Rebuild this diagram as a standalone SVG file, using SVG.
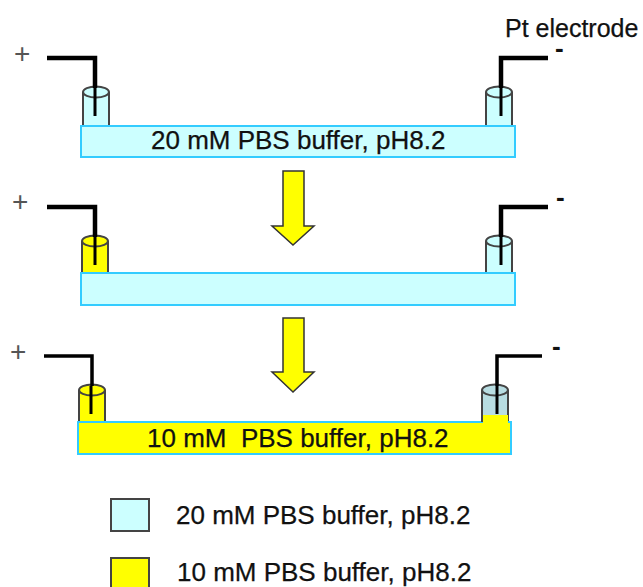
<svg xmlns="http://www.w3.org/2000/svg" width="643" height="587" viewBox="0 0 643 587">
<defs>
<style>
text{font-family:"Liberation Sans",Arial,sans-serif;fill:#111}
.lbl{font-size:26px;stroke:#111;stroke-width:.25}
.sign{font-size:28px;fill:#555}
.minus{font-size:26px;font-weight:bold;fill:#111}
.bar{stroke:#33ccff;stroke-width:2}
.blue{fill:#ccffff}
.grey{fill:#b8dde2}
.yel{fill:#ffff00}
.tube{stroke:#444;stroke-width:2}
.tb{fill:none;stroke:#444;stroke-width:2}
.wire{fill:none;stroke:#000;stroke-width:4.500}
.wire2{fill:none;stroke:#000;stroke-width:3}
.wire3{fill:none;stroke:#000;stroke-width:3.500}
.arrow{fill:#ffff00;stroke:#333;stroke-width:1.500;stroke-linejoin:miter}
.key{stroke:#444;stroke-width:2}
</style>
<g id="tubeBlue"><path class="blue" d="M0 0V33H26V0Z"/><path class="tb" d="M0 0V33M26 0V33"/><ellipse class="blue tube" cx="13" cy="0" rx="13" ry="5.500"/></g>
<g id="tubeYellow"><path class="yel" d="M0 0V33H26V0Z"/><path class="tb" d="M0 0V33M26 0V33"/><ellipse class="yel tube" cx="13" cy="0" rx="13" ry="5.500"/></g>
<g id="tubeGrey"><path class="grey" d="M0 0V33H26V0Z"/><path class="tb" d="M0 0V33M26 0V33"/><ellipse class="grey tube" cx="13" cy="0" rx="13" ry="5.500"/></g>
</defs>

<g id="row1">
<use href="#tubeBlue" x="83" y="92"/>
<use href="#tubeBlue" x="486" y="92"/>
<rect class="bar blue" x="81" y="126" width="434" height="31"/>
<text class="lbl" x="151" y="149">20 mM PBS buffer, pH8.2</text>
</g>
<g id="row2">
<use href="#tubeYellow" x="82" y="241"/>
<use href="#tubeBlue" x="486" y="241"/>
<rect class="bar blue" x="81" y="273" width="434" height="32"/>
</g>
<g id="row3">
<use href="#tubeYellow" x="79" y="390"/>
<use href="#tubeGrey" x="482" y="390"/>
<rect class="bar yel" x="78" y="422" width="433" height="32"/>
<rect class="yel" x="483" y="415" width="25" height="10"/>
<path class="tb" d="M482 415V422"/>
<text class="lbl" x="147" y="447" xml:space="preserve">10 mM  PBS buffer, pH8.2</text>
</g>

<g id="connectors">
<path class="wire" d="M47 58H95V88"/><path class="wire2" d="M95 88V116"/>
<path class="wire" d="M548 58H501V88"/><path class="wire2" d="M501 88V116"/>
<path class="wire" d="M47 207H95V237"/><path class="wire2" d="M95 237V265"/>
<path class="wire" d="M548 207H501V237"/><path class="wire2" d="M501 237V265"/>
<path class="wire3" d="M44 356H92V386"/><path class="wire2" d="M91 386V414"/>
<path class="wire3" d="M542 356H497V386"/><path class="wire2" d="M497 386V414"/>
<path class="arrow" d="M283 171H304V226H314L293 245L272 226H283Z"/>
<path class="arrow" d="M283 318H304V372H314L293 392L272 372H283Z"/>
</g>

<g id="signs">
<text class="sign" x="14" y="63">+</text>
<text class="sign" x="12" y="211">+</text>
<text class="sign" x="10" y="361">+</text>
<text class="minus" x="555" y="57">-</text>
<text class="minus" x="556" y="206">-</text>
<text class="minus" x="552" y="355">-</text>
</g>

<g id="pt-label"><text class="lbl" x="505" y="37" style="font-size:25px">Pt electrode</text></g>

<g id="legend-20">
<rect class="key blue" x="111" y="499" width="38" height="32"/>
<text class="lbl" x="176" y="524">20 mM PBS buffer, pH8.2</text>
</g>
<g id="legend-10">
<rect class="key yel" x="111" y="558" width="38" height="32"/>
<text class="lbl" x="177" y="581">10 mM PBS buffer, pH8.2</text>
</g>
</svg>
